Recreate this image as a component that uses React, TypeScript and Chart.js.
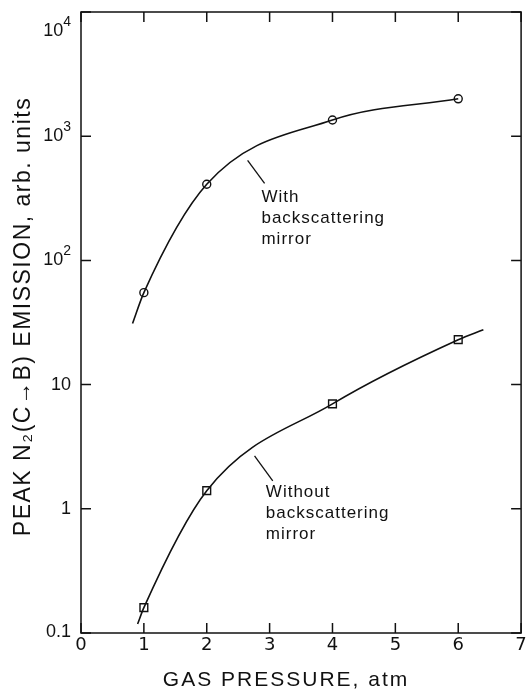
import React, { useEffect, useRef } from "react";
import { Chart, registerables } from "chart.js";

Chart.register(...registerables);

// ---- data ----
const pressure = [1, 2, 4, 6];
const withMirror = [55, 410, 1350, 2000];
const withoutMirror = [0.16, 1.4, 7, 23];

// extensions of the hand-drawn fitted curves beyond the measured points
const withCurveStart = { x: 0.82, y: 31 };
const withoutCurveStart = { x: 0.9, y: 0.118 };
const withoutCurveEnd = { x: 6.4, y: 27.7 };

const xTicks = [0, 1, 2, 3, 4, 5, 6, 7];
const yTicks = [0.1, 1, 10, 100, 1000, 10000];
const yTickBase = ["0.1", "1", "10", "10", "10", "10"];
const yTickExp = ["", "", "", "2", "3", "4"];

const xTitle = "GAS PRESSURE, atm";
const yTitle = "PEAK N₂(C→B) EMISSION, arb. units";

const withLabel = ["With", "backscattering", "mirror"];
const withoutLabel = ["Without", "backscattering", "mirror"];
// annotation anchors in data space: leader start (on curve), leader end, text position
const withLeader = [{ x: 2.65, y: 640 }, { x: 2.92, y: 417 }];
const withText = { x: 2.87, y: 322 };
const withoutLeader = [{ x: 2.76, y: 2.67 }, { x: 3.05, y: 1.68 }];
const withoutText = { x: 2.94, y: 1.35 };

const FONT = "'Liberation Sans', 'DejaVu Sans', sans-serif";
const TICKFONT = "'DejaVu Sans', 'Liberation Sans', sans-serif";

const framePlugin = {
  id: "frameTicks",
  afterDraw(chart: any) {
    const { ctx, chartArea } = chart;
    const xs = chart.scales.x;
    const ys = chart.scales.y;
    ctx.save();
    ctx.strokeStyle = "#111";
    ctx.lineWidth = 1.5;
    ctx.strokeRect(chartArea.left, chartArea.top, chartArea.right - chartArea.left, chartArea.bottom - chartArea.top);
    const tl = 10;
    ctx.beginPath();
    xTicks.forEach((v) => {
      const px = xs.getPixelForValue(v);
      ctx.moveTo(px, chartArea.bottom);
      ctx.lineTo(px, chartArea.bottom - tl);
      ctx.moveTo(px, chartArea.top);
      ctx.lineTo(px, chartArea.top + tl);
    });
    yTicks.forEach((v) => {
      const py = ys.getPixelForValue(v);
      ctx.moveTo(chartArea.left, py);
      ctx.lineTo(chartArea.left + tl, py);
      ctx.moveTo(chartArea.right, py);
      ctx.lineTo(chartArea.right - tl, py);
    });
    ctx.stroke();

    // y tick labels with raised exponents
    ctx.fillStyle = "#111";
    ctx.textBaseline = "middle";
    ctx.textAlign = "right";
    const labelRight = chartArea.left - 10;
    yTicks.forEach((v, i) => {
      let py = ys.getPixelForValue(v);
      if (i === yTicks.length - 1) py += 19; // top label sits inside the frame height
      if (i === 0) py -= 1;
      ctx.font = `14px ${FONT}`;
      const sup = yTickExp[i];
      const supW = sup ? ctx.measureText(sup).width : 0;
      if (sup) ctx.fillText(sup, labelRight, py - 9);
      ctx.font = `18px ${FONT}`;
      ctx.fillText(yTickBase[i], labelRight - supW, py);
    });

    // axis titles (wide lettering)
    ctx.textAlign = "center";
    ctx.font = `21px ${FONT}`;
    (ctx as any).letterSpacing = "2px";
    ctx.fillText(xTitle, (chartArea.left + chartArea.right) / 2 - 15, chart.height - 14);
    ctx.save();
    ctx.translate(24, (chartArea.top + chartArea.bottom) / 2 - 6);
    ctx.rotate(-Math.PI / 2);
    ctx.font = `23px ${FONT}`;
    (ctx as any).letterSpacing = "1.5px";
    ctx.fillText(yTitle, 0, 0);
    ctx.restore();

    // annotations
    ctx.lineWidth = 1.3;
    const drawNote = (leader: any[], text: any, lines: string[]) => {
      ctx.beginPath();
      ctx.moveTo(xs.getPixelForValue(leader[0].x), ys.getPixelForValue(leader[0].y));
      ctx.lineTo(xs.getPixelForValue(leader[1].x), ys.getPixelForValue(leader[1].y));
      ctx.stroke();
      ctx.fillStyle = "#111";
      ctx.font = `17px ${FONT}`;
      (ctx as any).letterSpacing = "1px";
      ctx.textAlign = "left";
      ctx.textBaseline = "middle";
      const tx = xs.getPixelForValue(text.x);
      const ty = ys.getPixelForValue(text.y);
      lines.forEach((s, i) => ctx.fillText(s, tx, ty + i * 21));
    };
    drawNote(withLeader, withText, withLabel);
    drawNote(withoutLeader, withoutText, withoutLabel);
    ctx.restore();
  },
};

export default function App() {
  const ref = useRef<HTMLCanvasElement | null>(null);
  useEffect(() => {
    if (!ref.current) return;
    const lineStyle = {
      borderColor: "#111",
      borderWidth: 1.6,
      pointRadius: 0,
      showLine: true,
      cubicInterpolationMode: "monotone" as const,
      fill: false,
    };
    const chart = new Chart(ref.current, {
      type: "scatter",
      data: {
        datasets: [
          {
            ...lineStyle,
            data: [withCurveStart, ...pressure.map((x, i) => ({ x, y: withMirror[i] }))],
          },
          {
            ...lineStyle,
            data: [withoutCurveStart, ...pressure.map((x, i) => ({ x, y: withoutMirror[i] })), withoutCurveEnd],
          },
          {
            data: pressure.map((x, i) => ({ x, y: withMirror[i] })),
            pointStyle: "circle",
            pointRadius: 4,
            backgroundColor: "#fff",
            borderColor: "#111",
            borderWidth: 1.4,
            showLine: false,
          },
          {
            data: pressure.map((x, i) => ({ x, y: withoutMirror[i] })),
            pointStyle: "rect",
            pointRadius: 5.5,
            backgroundColor: "#fff",
            borderColor: "#111",
            borderWidth: 1.4,
            showLine: false,
          },
        ],
      },
      options: {
        responsive: false,
        animation: false,
        layout: { padding: { top: 12, right: 5, left: 0, bottom: 0 } },
        plugins: { legend: { display: false }, tooltip: { enabled: false } },
        scales: {
          x: {
            type: "linear",
            min: 0,
            max: 7,
            afterBuildTicks: (s: any) => {
              s.ticks = xTicks.map((v) => ({ value: v }));
            },
            afterFit: (s: any) => {
              s.height = 61;
              s.paddingLeft = 0;
              s.paddingRight = 0;
            },
            grid: { display: false, drawTicks: false },
            border: { display: false },
            ticks: {
              color: "#111",
              font: { family: TICKFONT, size: 18 },
              padding: 2,
              maxRotation: 0,
              callback: (v: any) => String(v),
            },
          },
          y: {
            type: "logarithmic",
            min: 0.1,
            max: 10000,
            afterBuildTicks: (s: any) => {
              s.ticks = yTicks.map((v) => ({ value: v }));
            },
            afterFit: (s: any) => {
              s.width = 81;
              s.paddingTop = 0;
              s.paddingBottom = 0;
            },
            grid: { display: false, drawTicks: false },
            border: { display: false },
            ticks: { display: false },
          },
        },
      },
      plugins: [framePlugin],
    });
    return () => chart.destroy();
  }, []);
  return (
    <div style={{ position: "absolute", left: 0, top: 0, width: 528, height: 694, background: "#fff" }}>
      <canvas ref={ref} width={528} height={694} style={{ display: "block" }} />
    </div>
  );
}
